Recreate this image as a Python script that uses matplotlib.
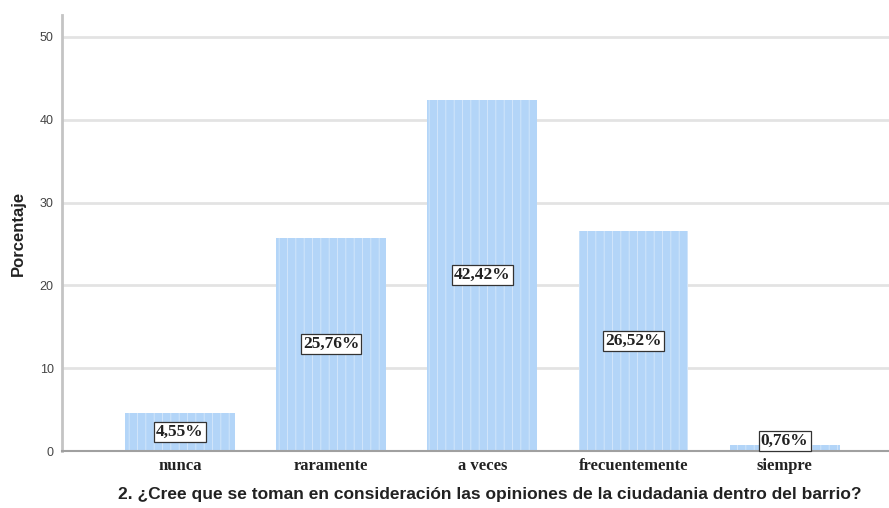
import matplotlib
matplotlib.use("Agg")
import matplotlib.pyplot as plt
import numpy as np

# data
categorias = ["nunca", "raramente", "a veces", "frecuentemente", "siempre"]
porcentajes = [4.55, 25.76, 42.42, 26.52, 0.76]
etiquetas = ["4,55%", "25,76%", "42,42%", "26,52%", "0,76%"]
yticks = [0, 10, 20, 30, 40, 50]

plt.rcParams["hatch.linewidth"] = 0.6

fig = plt.figure(figsize=(8.89, 5.08), dpi=100)
ax = fig.add_axes([0.0697, 0.1122, 0.9303, 0.8583])

x = np.arange(len(categorias))
ax.bar(x, porcentajes, width=0.727, color="#b3d5f8", edgecolor="#d6e8fb",
       hatch="||", linewidth=0, zorder=2)

for xi, v, lab in zip(x, porcentajes, etiquetas):
    ax.text(xi, max(v / 2, 1.2), lab, ha="center", va="center",
            family="Liberation Serif", fontweight="bold", fontsize=12.5,
            color="#222222", zorder=4,
            bbox=dict(boxstyle="square,pad=0.12", facecolor="white",
                      edgecolor="#333333", linewidth=0.9))

ax.set_xlim(-0.78, 4.69)
ax.set_ylim(0, 52.65)
ax.set_yticks(yticks)
ax.set_yticklabels([str(t) for t in yticks], family="Liberation Sans",
                   fontsize=9, color="#444444")
ax.set_xticks(x)
ax.set_xticklabels(categorias, family="Liberation Serif", fontweight="bold",
                   fontsize=12, color="#222222")
ax.tick_params(axis="both", length=0, pad=6)
ax.tick_params(axis="x", pad=5)

ax.grid(axis="y", color="#e3e3e3", linewidth=2, zorder=0)
ax.set_axisbelow(True)
for s in ["top", "right"]:
    ax.spines[s].set_visible(False)
ax.spines["left"].set_color("#c4c4c4")
ax.spines["left"].set_linewidth(2)
ax.spines["bottom"].set_color("#a0a0a0")
ax.spines["bottom"].set_linewidth(1.5)

ax.set_ylabel("Porcentaje", family="Liberation Sans", fontsize=12,
              fontweight="bold", color="#222222", labelpad=10)
ax.set_xlabel("2. ¿Cree que se toman en consideración las opiniones de la ciudadania dentro del barrio?",
              family="Liberation Sans", fontsize=12.5, fontweight="bold",
              color="#222222")
ax.xaxis.set_label_coords(0.5175, -0.083)

fig.savefig("out.png", dpi=100)
